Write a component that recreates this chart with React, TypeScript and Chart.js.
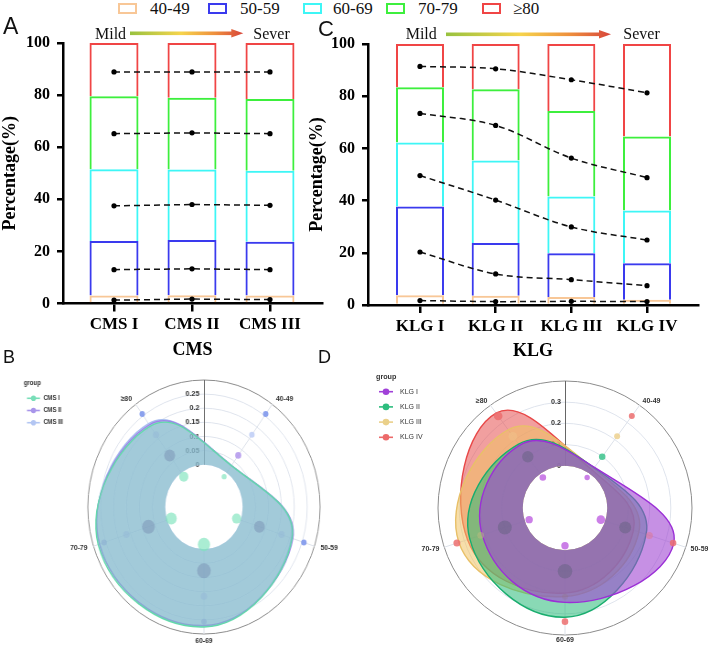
import React, { useEffect, useRef } from 'react';
import { Chart, registerables } from 'chart.js';

Chart.register(...registerables);

// ---------------- DATA ----------------
const ageGroups = ['40-49', '50-59', '60-69', '70-79', '≥80'];
const ageColors = ['#f8c797', '#3a3aee', '#3ef6f6', '#3def3d', '#f04545'];

// Panel A – CMS stacked percentages (%)
const cmsLabels = ['CMS I', 'CMS II', 'CMS III'];
const cms4049 = [3.1, 3.2, 3.1];
const cms5059 = [20.9, 21.2, 20.6];
const cms6069 = [27.5, 27.0, 27.3];
const cms7079 = [28.1, 27.6, 27.5];
const cms80 = [20.4, 21.0, 21.5];
// dot markers (%)
const cmsDot4049 = [1.3, 1.7, 1.5];
const cmsDot5059 = [13.0, 13.3, 13.0];
const cmsDot6069 = [37.5, 38.0, 37.7];
const cmsDot7079 = [65.2, 65.5, 65.2];
const cmsDot80 = [88.9, 88.9, 88.9];

// Panel C – KLG stacked percentages (%)
const klgLabels = ['KLG I', 'KLG II', 'KLG III', 'KLG IV'];
const klg4049 = [3.7, 3.5, 3.1, 2.0];
const klg5059 = [34.0, 20.3, 16.7, 14.0];
const klg6069 = [24.6, 31.6, 21.8, 20.2];
const klg7079 = [21.1, 27.3, 32.7, 28.4];
const klg80 = [16.6, 17.3, 25.7, 35.4];
const klgDot4049 = [1.7, 1.3, 1.4, 1.3];
const klgDot5059 = [20.3, 11.9, 9.7, 7.4];
const klgDot6069 = [49.6, 40.2, 29.9, 24.9];
const klgDot7079 = [73.4, 68.8, 56.3, 48.8];
const klgDot80 = [91.4, 90.5, 86.3, 81.3];

// Panel B – radar (proportions, order = ageGroups)
const radarCmsI = [0.031, 0.209, 0.275, 0.281, 0.204];
const radarCmsII = [0.032, 0.212, 0.270, 0.276, 0.210];
const radarCmsIII = [0.031, 0.206, 0.273, 0.275, 0.215];
const cmsRing1 = [-0.017, -0.017, -0.017, -0.017, -0.017];
const cmsRing2 = [0.076, 0.076, 0.076, 0.076, 0.076];
const cmsRing3 = [0.166, 0.166, 0.166, 0.166, 0.166];
const cmsRing4 = [0.257, 0.257, 0.257, 0.257, 0.257];
const cmsRing1Size = [2.7, 5, 6.7, 6, 5];
const cmsRing2Size = [3.3, 6, 7.5, 7, 6];
const cmsRing3Size = [3, 3.5, 3.5, 3.5, 3.5];
const cmsRing4Size = [3, 3, 3, 3, 3];

// Panel D – radar
const radarKlgI = [0.037, 0.340, 0.246, 0.211, 0.166];
const radarKlgII = [0.035, 0.203, 0.316, 0.273, 0.173];
const radarKlgIII = [0.031, 0.167, 0.218, 0.327, 0.257];
const radarKlgIV = [0.020, 0.140, 0.202, 0.284, 0.354];
const klgRing1 = [-0.022, -0.022, -0.022, -0.022, -0.022];
const klgRing2 = [0.099, 0.099, 0.099, 0.099, 0.099];
const klgRing3 = [0.219, 0.219, 0.219, 0.219, 0.219];
const klgRing4 = [0.337, 0.337, 0.337, 0.337, 0.337];
const klgRing1Size = [2.7, 4.3, 3.7, 3.7, 3.3];
const klgRing2Size = [3.3, 6, 7.3, 7, 5.7];
const klgRing3Size = [3, 3.5, 3, 3.3, 4.3];
const klgRing4Size = [3, 3.3, 3.3, 3.5, 4.3];

const cmsTickVals = [0, 0.05, 0.1, 0.15, 0.2, 0.25];
const klgTickVals = [0, 0.1, 0.2, 0.3];

// ---------------- HELPERS ----------------
const SERIF = '"Liberation Serif", "Times New Roman", serif';
const SANS = '"Liberation Sans", Arial, sans-serif';

function arrowPlugin(a: any) {
  return {
    id: 'mildArrow',
    afterDraw(chart: any) {
      const ctx = chart.ctx;
      ctx.save();
      ctx.font = `16px ${SERIF}`;
      ctx.fillStyle = '#111';
      ctx.textBaseline = 'alphabetic';
      ctx.textAlign = 'left';
      ctx.fillText('Mild', a.mildX, a.baseY);
      ctx.fillText('Sever', a.severX, a.baseY);
      const g = ctx.createLinearGradient(a.x0, 0, a.x1, 0);
      g.addColorStop(0, '#98c23f');
      g.addColorStop(0.45, '#f6d44c');
      g.addColorStop(0.75, '#ee8f3d');
      g.addColorStop(1, '#d8453a');
      ctx.fillStyle = g;
      ctx.fillRect(a.x0, a.y - 1.8, a.x1 - 10 - a.x0, 3.6);
      ctx.beginPath();
      ctx.moveTo(a.x1 - 12, a.y - 4.2);
      ctx.lineTo(a.x1, a.y);
      ctx.lineTo(a.x1 - 12, a.y + 4.2);
      ctx.closePath();
      ctx.fill();
      ctx.restore();
    },
  };
}

function makeBarConfig(o: any) {
  const datasets: any[] = [];
  o.pcts.forEach((arr: number[], gi: number) =>
    datasets.push({
      type: 'bar',
      label: ageGroups[gi],
      data: arr.map((v, i) => ({ x: i + 1, y: v })),
      backgroundColor: 'rgba(0,0,0,0)',
      borderColor: ageColors[gi],
      borderWidth: 2,
      borderSkipped: 'start',
      inflateAmount: 0,
      barThickness: o.barW,
      order: 1,
      stack: 's',
    })
  );
  o.dots.forEach((arr: number[], gi: number) =>
    datasets.push({
      type: 'line',
      label: 'mid ' + ageGroups[gi],
      data: arr.map((v, i) => ({ x: i + 1, y: v })),
      yAxisID: 'y2',
      borderColor: '#111',
      borderWidth: 1.5,
      borderDash: [6, 4],
      pointRadius: 2.6,
      pointBackgroundColor: '#000',
      pointBorderColor: '#000',
      pointBorderWidth: 0,
      tension: o.tension,
      fill: false,
      order: 0,
    })
  );
  const labels: string[] = o.labels;
  return {
    type: 'bar',
    data: { datasets },
    options: {
      animation: false,
      responsive: false,
      maintainAspectRatio: false,
      layout: { padding: { left: 0, right: o.padRight, top: o.padTop, bottom: 0 } },
      plugins: { legend: { display: false }, tooltip: { enabled: false } },
      scales: {
        x: {
          type: 'linear',
          min: o.xMin,
          max: o.xMax,
          stacked: true,
          offset: false,
          afterBuildTicks: (s: any) => {
            s.ticks = labels.map((_, i) => ({ value: i + 1 }));
          },
          afterFit: (s: any) => {
            s.height = o.xH;
          },
          ticks: {
            autoSkip: false,
            maxRotation: 0,
            padding: 3,
            color: '#000',
            font: { family: SERIF, size: 17, weight: 'bold' },
            callback: (v: any) => labels[Math.round(v) - 1] ?? '',
          },
          grid: { drawOnChartArea: false, offset: false, color: '#000', lineWidth: 2.5, tickLength: 8, tickWidth: 2.5 },
          border: { color: '#000', width: 2.5 },
          title: {
            display: true,
            text: o.title,
            color: '#000',
            font: { family: SERIF, size: 18, weight: 'bold' },
            padding: { top: 0, bottom: o.xTitlePad },
          },
        },
        y: {
          stacked: true,
          min: 0,
          max: 100,
          afterFit: (s: any) => {
            s.width = o.yW;
          },
          ticks: { stepSize: 20, padding: 7, color: '#000', font: { family: SERIF, size: 16, weight: 'bold' } },
          grid: { drawOnChartArea: false, color: '#000', lineWidth: 2.5, tickLength: 6, tickWidth: 2.5 },
          border: { color: '#000', width: 2.5 },
          title: {
            display: true,
            text: 'Percentage(%)',
            color: '#000',
            font: { family: SERIF, size: 18, weight: 'bold' },
            padding: { top: o.yTitlePad, bottom: 0 },
          },
        },
        y2: { display: false, min: 0, max: 100 },
      },
    },
    plugins: [arrowPlugin(o.arrow)],
  };
}

function radarDecor(o: any) {
  return {
    id: 'radarDecor',
    beforeDatasetsDraw(chart: any) {
      const s = chart.scales.r;
      const ctx = chart.ctx;
      const cx = s.xCenter;
      const cy = s.yCenter;
      const r0 = s.getDistanceFromCenterForValue(0);
      const rMax = s.drawingArea;
      ctx.save();
      ctx.fillStyle = '#fff';
      ctx.beginPath();
      ctx.arc(cx, cy, r0, 0, Math.PI * 2);
      ctx.fill();
      ctx.strokeStyle = '#666';
      ctx.lineWidth = 1;
      ctx.beginPath();
      ctx.moveTo(cx + 0.5, cy - r0);
      ctx.lineTo(cx + 0.5, cy - rMax);
      ctx.stroke();
      ctx.fillStyle = '#333';
      ctx.font = `bold ${o.tickFont}px ${SANS}`;
      ctx.textAlign = 'right';
      ctx.textBaseline = 'middle';
      o.tickVals.forEach((v: number) => {
        const r = s.getDistanceFromCenterForValue(v);
        ctx.fillText(String(v), cx - o.tickGap, cy - r);
      });
      ctx.restore();
    },
    afterDraw(chart: any) {
      const s = chart.scales.r;
      const ctx = chart.ctx;
      const cx = s.xCenter;
      const cy = s.yCenter;
      ctx.save();
      ctx.fillStyle = '#333';
      ctx.font = `bold ${o.labelFont}px ${SANS}`;
      ctx.textBaseline = 'middle';
      const n = chart.data.labels.length;
      for (let i = 0; i < n; i++) {
        const ang = s.getIndexAngle(i) - Math.PI / 2;
        const r = s.drawingArea + o.labelGap;
        const x = cx + Math.cos(ang) * r;
        const y = cy + Math.sin(ang) * r;
        const c = Math.cos(ang);
        ctx.textAlign = c > 0.05 ? 'left' : c < -0.05 ? 'right' : 'center';
        ctx.fillText(chart.data.labels[i], x, y);
      }
      // legend
      const L = o.legend;
      ctx.textAlign = 'left';
      ctx.fillStyle = '#333';
      ctx.font = L.titleFont;
      ctx.fillText('group', L.titleX, L.titleY);
      ctx.font = L.itemFont;
      L.items.forEach((it: any, i: number) => {
        const y = L.itemY0 + i * L.gap;
        ctx.strokeStyle = it.color;
        ctx.lineWidth = 1.6;
        ctx.beginPath();
        ctx.moveTo(L.lineX0, y);
        ctx.lineTo(L.lineX1, y);
        ctx.stroke();
        ctx.fillStyle = it.color;
        ctx.beginPath();
        ctx.arc(L.dotX, y, L.dotR, 0, Math.PI * 2);
        ctx.fill();
        ctx.fillStyle = '#333';
        ctx.fillText(it.label, L.textX, y);
      });
      ctx.restore();
    },
  };
}

function makeRadarConfig(o: any) {
  const datasets: any[] = [];
  o.rings.forEach((rg: any, i: number) =>
    datasets.push({
      label: 'ring' + i,
      data: rg.data,
      showLine: false,
      fill: false,
      borderWidth: 0,
      backgroundColor: 'rgba(0,0,0,0)',
      pointRadius: rg.sizes,
      pointBackgroundColor: rg.colors,
      pointBorderWidth: 0,
      pointHoverRadius: rg.sizes,
    })
  );
  o.areas.forEach((a: any) =>
    datasets.push({
      label: a.label,
      data: a.data,
      borderColor: a.line,
      backgroundColor: a.fill,
      borderWidth: 1.4,
      fill: 'origin',
      pointRadius: 0,
      pointHoverRadius: 0,
      tension: o.tension,
    })
  );
  return {
    type: 'radar',
    data: { labels: ageGroups, datasets },
    options: {
      animation: false,
      responsive: false,
      maintainAspectRatio: false,
      layout: { padding: o.pad },
      plugins: { legend: { display: false }, tooltip: { enabled: false } },
      scales: {
        r: {
          min: o.min,
          max: o.max,
          startAngle: 36,
          beginAtZero: false,
          ticks: { display: false, stepSize: o.step },
          pointLabels: { display: false },
          grid: {
            circular: true,
            lineWidth: 1,
            color: (c: any) => {
              const v = c.tick ? c.tick.value : 0;
              if (v > o.max - 1e-6) return '#8c8c8c';
              if (v > 1e-6) return '#dfe4ed';
              return 'rgba(0,0,0,0)';
            },
          },
          angleLines: { color: '#dde2ea', lineWidth: 1 },
        },
      },
    },
    plugins: [radarDecor(o)],
  };
}

const makeA = () =>
  makeBarConfig({
    labels: cmsLabels,
    pcts: [cms4049, cms5059, cms6069, cms7079, cms80],
    dots: [cmsDot4049, cmsDot5059, cmsDot6069, cmsDot7079, cmsDot80],
    xMin: 0.346,
    xMax: 3.667,
    barW: 49,
    yW: 63,
    xH: 61.5,
    padTop: 43,
    padRight: 32,
    yTitlePad: 0,
    xTitlePad: 4,
    tension: 0,
    title: 'CMS',
    arrow: { mildX: 95, x0: 130, x1: 243.3, severX: 253.3, y: 33.3, baseY: 38.5 },
  });

const makeC = () =>
  makeBarConfig({
    labels: klgLabels,
    pcts: [klg4049, klg5059, klg6069, klg7079, klg80],
    dots: [klgDot4049, klgDot5059, klgDot6069, klgDot7079, klgDot80],
    xMin: 0.313,
    xMax: 4.674,
    barW: 48,
    yW: 68,
    xH: 60,
    padTop: 44,
    padRight: 10,
    yTitlePad: 6.7,
    xTitlePad: 3,
    tension: 0.35,
    title: 'KLG',
    arrow: { mildX: 105.7, x0: 146, x1: 311, severX: 323.3, y: 34.3, baseY: 39 },
  });

const makeB = () =>
  makeRadarConfig({
    areas: [
      { label: 'CMS I', data: radarCmsI, line: '#62d9aa', fill: 'rgba(110,215,180,0.4)' },
      { label: 'CMS II', data: radarCmsII, line: '#9c86e8', fill: 'rgba(165,140,235,0.4)' },
      { label: 'CMS III', data: radarCmsIII, line: '#a7bcef', fill: 'rgba(170,195,240,0.4)' },
    ],
    rings: [
      { data: cmsRing1, sizes: cmsRing1Size, colors: Array(5).fill('rgba(125,228,188,0.65)') },
      {
        data: cmsRing2,
        sizes: cmsRing2Size,
        colors: ['rgba(178,150,236,0.85)', 'rgba(110,130,170,0.4)', 'rgba(110,130,170,0.4)', 'rgba(110,130,170,0.4)', 'rgba(110,130,170,0.4)'],
      },
      {
        data: cmsRing3,
        sizes: cmsRing3Size,
        colors: ['rgba(196,210,247,0.95)', 'rgba(150,185,215,0.55)', 'rgba(150,185,215,0.55)', 'rgba(150,185,215,0.55)', 'rgba(150,185,215,0.55)'],
      },
      {
        data: cmsRing4,
        sizes: cmsRing4Size,
        colors: ['rgba(128,152,236,0.9)', 'rgba(128,152,236,0.9)', 'rgba(140,175,210,0.6)', 'rgba(140,175,210,0.6)', 'rgba(128,152,236,0.9)'],
      },
    ],
    min: -0.15,
    max: 0.3,
    step: 0.05,
    tension: 0.45,
    tickVals: cmsTickVals,
    tickFont: 7.8,
    tickGap: 5,
    labelFont: 7.4,
    labelGap: 7,
    pad: { left: 96, right: 36, top: 23, bottom: 12 },
    legend: {
      titleX: 26,
      titleY: 26,
      itemY0: 41.3,
      gap: 12.2,
      lineX0: 29.5,
      lineX1: 43.7,
      dotX: 36.6,
      dotR: 2.8,
      textX: 47.5,
      titleFont: `bold 6.6px ${SANS}`,
      itemFont: `bold 6.4px ${SANS}`,
      items: [
        { label: 'CMS I', color: '#78deb8' },
        { label: 'CMS II', color: '#a895ea' },
        { label: 'CMS III', color: '#b3c6f3' },
      ],
    },
  });

const makeD = () =>
  makeRadarConfig({
    areas: [
      { label: 'KLG I', data: radarKlgI, line: '#9b2fd6', fill: 'rgba(160,70,210,0.6)' },
      { label: 'KLG II', data: radarKlgII, line: '#19ad6e', fill: 'rgba(40,185,120,0.55)' },
      { label: 'KLG III', data: radarKlgIII, line: '#e8c068', fill: 'rgba(240,195,100,0.55)' },
      { label: 'KLG IV', data: radarKlgIV, line: '#e84848', fill: 'rgba(230,80,80,0.55)' },
    ],
    rings: [
      { data: klgRing1, sizes: klgRing1Size, colors: Array(5).fill('rgba(190,95,225,0.8)') },
      {
        data: klgRing2,
        sizes: klgRing2Size,
        colors: ['rgba(60,195,140,0.85)', 'rgba(95,95,125,0.45)', 'rgba(95,95,125,0.45)', 'rgba(95,95,125,0.45)', 'rgba(95,95,125,0.45)'],
      },
      {
        data: klgRing3,
        sizes: klgRing3Size,
        colors: ['rgba(238,212,150,0.9)', 'rgba(220,120,150,0.55)', 'rgba(150,120,135,0.3)', 'rgba(185,185,125,0.55)', 'rgba(240,190,135,0.75)'],
      },
      { data: klgRing4, sizes: klgRing4Size, colors: Array(5).fill('rgba(236,110,110,0.85)') },
    ],
    min: -0.2,
    max: 0.4,
    step: 0.1,
    tension: 0.45,
    tickVals: klgTickVals,
    tickFont: 7.2,
    tickGap: 4,
    labelFont: 7,
    labelGap: 5,
    pad: { left: 84, right: 16, top: 23, bottom: 11 },
    legend: {
      titleX: 22,
      titleY: 19,
      itemY0: 33.7,
      gap: 15.2,
      lineX0: 25,
      lineX1: 39,
      dotX: 32,
      dotR: 3.3,
      textX: 46,
      titleFont: `bold 7.2px ${SANS}`,
      itemFont: `7px ${SANS}`,
      items: [
        { label: 'KLG I', color: '#a040d8' },
        { label: 'KLG II', color: '#2dbd7e' },
        { label: 'KLG III', color: '#ead08a' },
        { label: 'KLG IV', color: '#ec6a6a' },
      ],
    },
  });

function ChartCanvas({ make, w, h, style }: any) {
  const ref = useRef<HTMLCanvasElement>(null);
  useEffect(() => {
    const chart = new Chart(ref.current as HTMLCanvasElement, make());
    return () => chart.destroy();
  }, []);
  return (
    <canvas
      ref={ref}
      width={w}
      height={h}
      style={{ position: 'absolute', width: w, height: h, display: 'block', ...style }}
    />
  );
}

const legendItems = [
  { box: 118, text: 150 },
  { box: 208, text: 240 },
  { box: 303, text: 333 },
  { box: 386, text: 418 },
  { box: 482, text: 513 },
];

export default function App() {
  return (
    <div style={{ position: 'absolute', left: 0, top: 0, width: 708, height: 646, background: '#fff', overflow: 'hidden' }}>
      {ageGroups.map((g, i) => (
        <React.Fragment key={g}>
          <div
            style={{
              position: 'absolute',
              left: legendItems[i].box,
              top: 3,
              width: 19,
              height: 11,
              boxSizing: 'border-box',
              border: `2.5px solid ${ageColors[i]}`,
            }}
          />
          <div
            style={{
              position: 'absolute',
              left: legendItems[i].text,
              top: 0,
              fontFamily: SERIF,
              fontSize: 17,
              lineHeight: '17px',
              color: '#111',
              whiteSpace: 'nowrap',
            }}
          >
            {g}
          </div>
        </React.Fragment>
      ))}
      <ChartCanvas make={makeA} w={354} h={365} style={{ left: 0, top: 0 }} />
      <ChartCanvas make={makeC} w={408} h={365} style={{ left: 300, top: 0 }} />
      <ChartCanvas make={makeB} w={386} h={289} style={{ left: 0, top: 357, width: 353.2, height: 289 }} />
      <ChartCanvas make={makeD} w={354} h={288} style={{ left: 354, top: 358 }} />
      {[
        { t: 'A', x: 3, y: 15.3, s: 23 },
        { t: 'C', x: 318, y: 17.5, s: 22 },
        { t: 'B', x: 3, y: 348.3, s: 18 },
        { t: 'D', x: 318, y: 348.3, s: 18 },
      ].map((l) => (
        <div
          key={l.t}
          style={{
            position: 'absolute',
            left: l.x,
            top: l.y,
            fontFamily: SANS,
            fontSize: l.s,
            lineHeight: `${l.s}px`,
            color: '#111',
          }}
        >
          {l.t}
        </div>
      ))}
    </div>
  );
}
